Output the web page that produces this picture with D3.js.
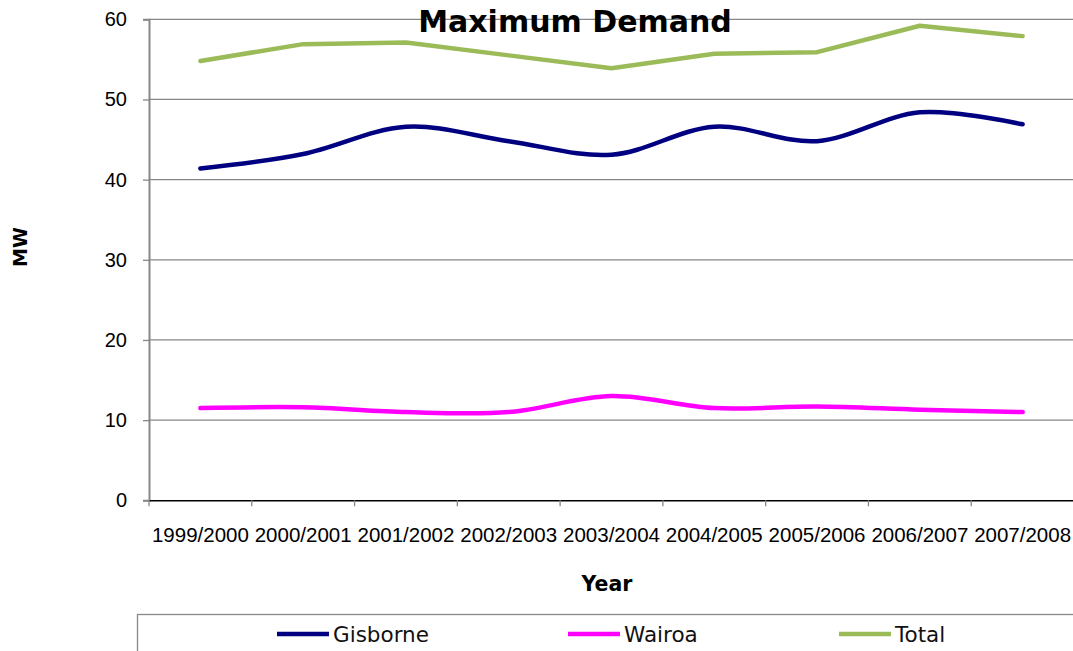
<!DOCTYPE html>
<html>
<head>
<meta charset="utf-8">
<script src="https://cdn.jsdelivr.net/npm/d3@7"></script>
<style>
  body { margin: 0; background: #fff; }
  svg { display: block; }
</style>
</head>
<body>
<svg id="chart" width="1073" height="651"></svg>
<script>
'use strict';

// data
var years = ['1999/2000','2000/2001','2001/2002','2002/2003','2003/2004','2004/2005','2005/2006','2006/2007','2007/2008'];
var gisborne = [41.4, 43.2, 46.6, 44.8, 43.1, 46.6, 44.8, 48.4, 46.9];
var wairoa = [11.5, 11.6, 11.0, 11.0, 13.0, 11.5, 11.7, 11.3, 11.0];
var total = [54.8, 56.9, 57.1, 55.5, 53.9, 55.7, 55.9, 59.2, 57.9];
var yTicks = [0, 10, 20, 30, 40, 50, 60];

var series = [
	{name: 'Gisborne', values: gisborne, colour: '#000080', smooth: true},
	{name: 'Wairoa', values: wairoa, colour: '#ff00ff', smooth: true},
	{name: 'Total', values: total, colour: '#9bbb59', smooth: false}
];

var svg = d3.select('#chart');
var plotLeft = 149, plotRight = 1074, plotTop = 19.3, plotBottom = 500.3;

var x = d3.scaleBand().domain(years).range([plotLeft, plotRight]);
var y = d3.scaleLinear().domain([0, 60]).range([plotBottom, plotTop]);

var labelFont = '"Liberation Sans", Arial, sans-serif';
var textFont = '"DejaVu Sans", Verdana, sans-serif';

//Gridlines
svg.append('g')
	.selectAll('line')
	.data(yTicks.filter(function(d){ return d > 0; }))
	.enter().append('line')
		.attr('x1', plotLeft).attr('x2', plotRight)
		.attr('y1', function(d){ return y(d); })
		.attr('y2', function(d){ return y(d); })
		.attr('stroke', '#878787')
		.attr('stroke-width', 1.3);

//Y axis
var yAxis = svg.append('g')
	.attr('transform', 'translate(' + plotLeft + ',0)')
	.call(d3.axisLeft(y).tickValues(yTicks).tickSize(6).tickPadding(16));
yAxis.select('.domain').attr('stroke', '#878787').attr('stroke-width', 2);
yAxis.selectAll('.tick line').attr('stroke', '#878787').attr('stroke-width', 1.3);
yAxis.selectAll('.tick text')
	.attr('font-family', labelFont)
	.attr('font-size', 20)
	.attr('fill', '#000');

//X axis
var xAxis = svg.append('g')
	.attr('transform', 'translate(0,' + plotBottom + ')')
	.call(d3.axisBottom(x).tickSize(0).tickPadding(27));
xAxis.select('.domain').attr('stroke', '#000').attr('stroke-width', 1.5);
xAxis.selectAll('.tick text')
	.attr('font-family', labelFont)
	.attr('font-size', 20.5)
	.attr('fill', '#000');

//Category boundary ticks
svg.append('g')
	.selectAll('line')
	.data(years.concat(['end']))
	.enter().append('line')
		.attr('x1', function(d, i){ return plotLeft + i * x.step(); })
		.attr('x2', function(d, i){ return plotLeft + i * x.step(); })
		.attr('y1', plotBottom)
		.attr('y2', plotBottom + 6)
		.attr('stroke', '#878787')
		.attr('stroke-width', 1.3);

//Lines
var cx = function(d, i){ return x(years[i]) + x.bandwidth() / 2; };
series.forEach(function(s){
	var line = d3.line()
		.x(cx)
		.y(function(d){ return y(d); })
		.curve(s.smooth ? d3.curveCatmullRom.alpha(0) : d3.curveLinear);
	svg.append('path')
		.datum(s.values)
		.attr('d', line)
		.attr('fill', 'none')
		.attr('stroke', s.colour)
		.attr('stroke-width', 4.5)
		.attr('stroke-linecap', 'round')
		.attr('stroke-linejoin', 'round');
});

//Title and axis titles
svg.append('text')
	.attr('x', 575).attr('y', 32)
	.attr('text-anchor', 'middle')
	.attr('font-family', textFont)
	.attr('font-weight', 'bold')
	.attr('font-size', 30)
	.text('Maximum Demand');

svg.append('text')
	.attr('x', 607).attr('y', 591)
	.attr('text-anchor', 'middle')
	.attr('font-family', textFont)
	.attr('font-weight', 'bold')
	.attr('font-size', 20.5)
	.text('Year');

svg.append('text')
	.attr('transform', 'translate(27,247) rotate(-90)')
	.attr('text-anchor', 'middle')
	.attr('font-family', textFont)
	.attr('font-weight', 'bold')
	.attr('font-size', 19)
	.text('MW');

//Legend
svg.append('rect')
	.attr('x', 137.5).attr('y', 614.5)
	.attr('width', 1000).attr('height', 100)
	.attr('fill', 'none')
	.attr('stroke', '#888')
	.attr('stroke-width', 1.3);

var legendX = [277, 568, 839];
var legend = svg.append('g')
	.selectAll('g')
	.data(series)
	.enter().append('g')
		.attr('transform', function(d, i){ return 'translate(' + legendX[i] + ',634)'; });
legend.append('line')
	.attr('x1', 0).attr('x2', 52)
	.attr('stroke', function(d){ return d.colour; })
	.attr('stroke-width', 4.5);
legend.append('text')
	.attr('x', 56).attr('y', 8)
	.attr('font-family', textFont)
	.attr('font-size', 21.5)
	.attr('fill', '#111')
	.text(function(d){ return d.name; });
</script>
</body>
</html>
